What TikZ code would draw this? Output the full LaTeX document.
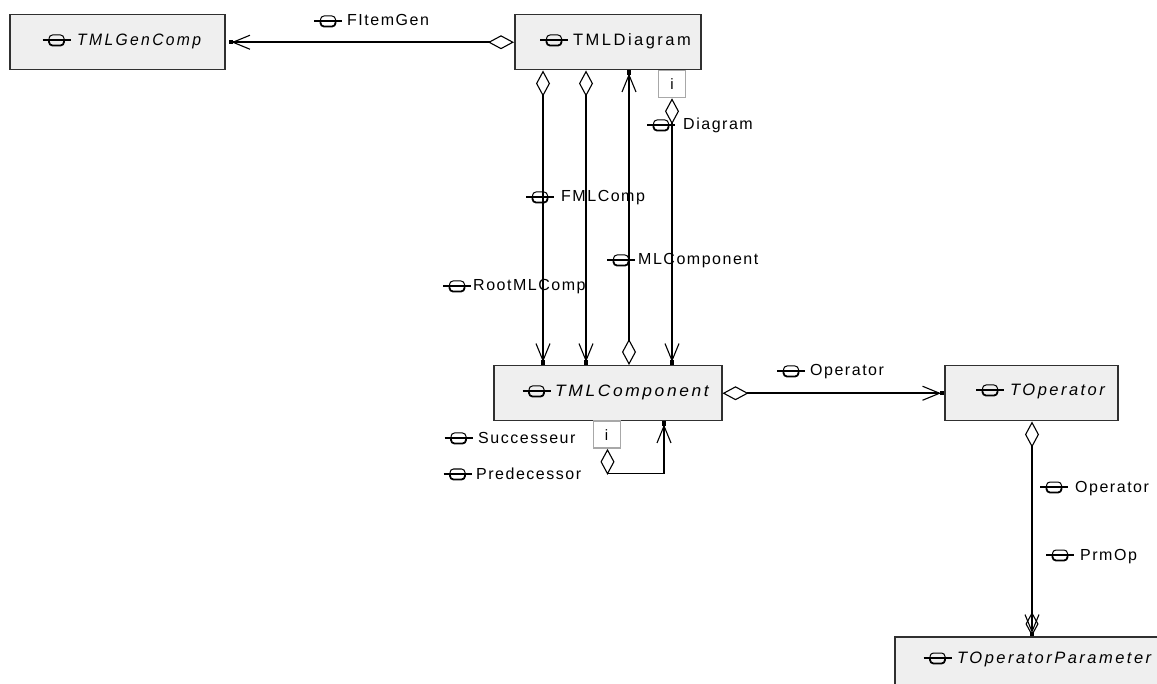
\documentclass[tikz,border=0pt]{standalone}
\usepackage{fontspec}
\setmainfont{Liberation Sans}
\newfontfamily\boxfont[LetterSpace=15]{Liberation Sans}
\newfontfamily\labfont[LetterSpace=9.5]{Liberation Sans}
\usetikzlibrary{arrows.meta}
\definecolor{boxfill}{HTML}{EFEFEF}
\definecolor{boxline}{HTML}{303030}
\definecolor{ifline}{HTML}{A8A8A8}
\tikzset{
  x=1pt,y=-1pt,
  classbox/.style={draw=boxline,line width=1.5pt,fill=boxfill,inner sep=0pt,anchor=north west},
  ifacebox/.style={draw=ifline,line width=1.3pt,fill=white,inner sep=0pt,minimum width=27pt,minimum height=27pt,font=\fontsize{15}{17}\selectfont,anchor=north west},
  classname/.style={anchor=base west,yshift=-5.5pt,inner sep=0pt,font=\boxfont\itshape\fontsize{16.5}{18}\selectfont},
  classnameup/.style={anchor=base west,yshift=-5.5pt,inner sep=0pt,font=\boxfont\fontsize{16.5}{18}\selectfont},
  lab/.style={anchor=base west,yshift=-5pt,inner sep=0pt,font=\labfont\fontsize{16}{17}\selectfont},
  conn/.style={draw=black,line width=1.5pt},
  dia/.tip={Diamond[open,length=26pt,width=14pt,line width=1.1pt]},
  bar/.tip={Straight Barb[length=17pt,width=14pt,line width=1.1pt,sep=-1.5pt]. Square[length=4.5pt,width=4.5pt]},
  pics/iconglyph/.style={code={
    \draw[line width=1.2pt] (-14,0) -- (14,0);
    \draw[line width=1pt,rounded corners=3.5pt] (-7.5,0) -- (-7.5,-5) -- (7.5,-5) -- (7.5,0);
    \draw[line width=1.8pt,rounded corners=3.5pt] (-7.5,0) -- (-7.5,5.5) -- (7.5,5.5) -- (7.5,0);
  }}
}
\begin{document}
\begin{tikzpicture}
\clip (0,0) rectangle (1157,684);
% classes
\node[classbox,minimum width=215pt,minimum height=55pt] (gen) at (9,14) {};
\node[classbox,minimum width=186pt,minimum height=55pt] (diag) at (514,14) {};
\node[classbox,minimum width=228pt,minimum height=55pt] (comp) at (493,365) {};
\node[classbox,minimum width=173pt,minimum height=55pt] (oper) at (944,365) {};
\node[classbox,minimum width=300pt,minimum height=70pt] (param) at (894,636) {};
\node[ifacebox] (idiag) at (658,70) {i};
\node[ifacebox] (icomp) at (592.5,420.5) {i};
% connector columns
\coordinate (xa) at (543,0);
\coordinate (xb) at (586,0);
\coordinate (xc) at (629,0);
\coordinate (xd) at (672,0);
\coordinate (xe) at (664,0);
\coordinate (xf) at (1032,0);
\coordinate (xg) at (607.5,0);
\coordinate (yloop) at (0,473.5);
% connectors
\draw[conn,{bar}-{dia},shorten <=3pt] (gen.east) -- (diag.west);
\draw[conn,{dia}-{bar}] (xa |- diag.south) -- (xa |- comp.north);
\draw[conn,{dia}-{bar}] (xb |- diag.south) -- (xb |- comp.north);
\draw[conn,{bar}-{dia}] (xc |- diag.south) -- (xc |- comp.north);
\draw[conn,{dia}-{bar}] (xd |- idiag.south) -- (xd |- comp.north);
\draw[conn,{dia}-{bar}] (comp.east) -- (oper.west);
\draw[conn,{dia}-{bar}] (xg |- icomp.south) -- (xg |- yloop) -- (xe |- yloop) -- (xe |- comp.south);
\draw[conn,{dia}-{bar}] (xf |- oper.south) -- (xf |- param.north);
\draw[conn,{Diamond[open,length=24pt,width=13pt,line width=1.1pt]}-] (xf |- param.north) -- ++(0,-24);
% class names
\node[classname,xscale=0.95,transform shape] (tgen) at (77,40) {TMLGenComp};
\node[classnameup] (tdiag) at (573,40) {TMLDiagram};
\node[classname,xscale=1.055,transform shape] (tcomp) at (555,391) {TMLComponent};
\node[classname] (toper) at (1010,390) {TOperator};
\node[classname] (tparam) at (957,658) {TOperatorParameter};
% labels
\node[lab] (l1) at (347,21) {FItemGen};
\node[lab] (l2) at (683,125) {Diagram};
\node[lab] (l3) at (561,197) {FMLComp};
\node[lab] (l4) at (473,286) {RootMLComp};
\node[lab] (l5) at (638,260) {MLComponent};
\node[lab] (l6) at (810,371) {Operator};
\node[lab] (l7) at (478,438) {Successeur};
\node[lab] (l8) at (476,474) {Predecessor};
\node[lab] (l9) at (1075,487) {Operator};
\node[lab] (l10) at (1080,555) {PrmOp};
% icons
\foreach \p/\q in {56.5/40,554/40,536.5/391,990/390,937.5/658,328/21,661/125,540/197,457/286,621/260,791/371,458.5/438,457.5/474,1054/487,1060/555}
  \pic at (\p,\q) {iconglyph};
\end{tikzpicture}
\end{document}
